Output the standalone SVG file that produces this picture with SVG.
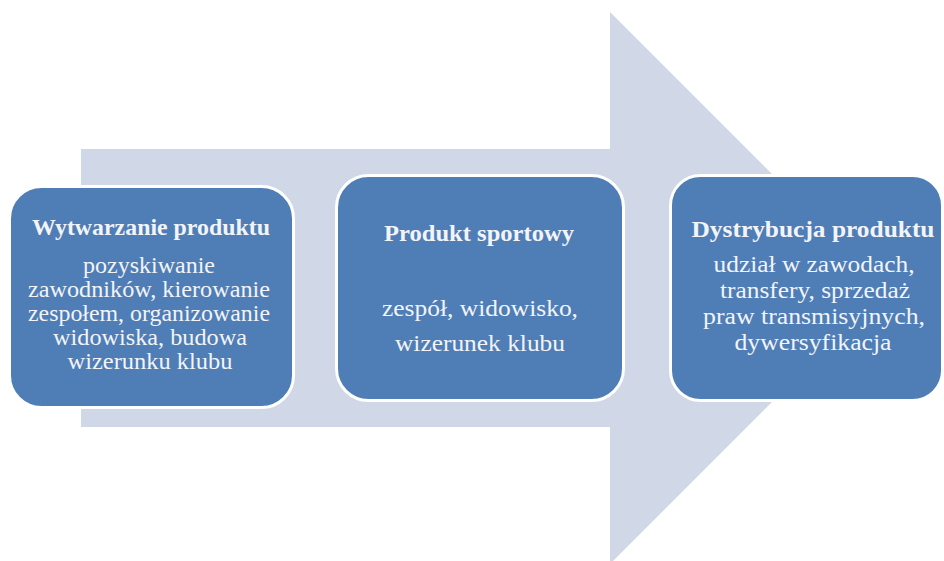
<svg xmlns="http://www.w3.org/2000/svg" width="944" height="561" viewBox="0 0 944 561">
<style>
.box{fill:#4f7db5;stroke:#ffffff;stroke-width:3}
.t{font-family:"Liberation Serif","Times New Roman",serif;font-size:23px;fill:#f2f4f8;text-anchor:middle}
.b{font-weight:bold}
</style>
<rect width="944" height="561" fill="#ffffff"/>
<g id="connectors">
<polygon points="81,149 610,149 610,12 886,288 610,564 610,427 81,427" fill="#d0d7e6"/>
</g>
<g id="node1">
<rect class="box" x="9.5" y="186.5" width="284" height="221" rx="32"/>
<text class="t b" x="151" y="235" textLength="238" lengthAdjust="spacingAndGlyphs">Wytwarzanie produktu</text>
<text class="t" x="149" y="273" textLength="132" lengthAdjust="spacingAndGlyphs">pozyskiwanie</text>
<text class="t" x="149" y="297" textLength="242" lengthAdjust="spacingAndGlyphs">zawodników, kierowanie</text>
<text class="t" x="149" y="321" textLength="242" lengthAdjust="spacingAndGlyphs">zespołem, organizowanie</text>
<text class="t" x="150" y="345" textLength="194" lengthAdjust="spacingAndGlyphs">widowiska, budowa</text>
<text class="t" x="150" y="369" textLength="165" lengthAdjust="spacingAndGlyphs">wizerunku klubu</text>
</g>
<g id="node2">
<rect class="box" x="336.5" y="175.5" width="287" height="225" rx="32"/>
<text class="t b" x="479" y="241" textLength="190" lengthAdjust="spacingAndGlyphs">Produkt sportowy</text>
<text class="t" x="480" y="316" textLength="196" lengthAdjust="spacingAndGlyphs">zespół, widowisko,</text>
<text class="t" x="480" y="351" textLength="170" lengthAdjust="spacingAndGlyphs">wizerunek klubu</text>
</g>
<g id="node3">
<rect class="box" x="670.5" y="175.5" width="272" height="225" rx="30"/>
<text class="t b" x="813" y="237" textLength="243" lengthAdjust="spacingAndGlyphs">Dystrybucja produktu</text>
<text class="t" x="814" y="272" textLength="201" lengthAdjust="spacingAndGlyphs">udział w zawodach,</text>
<text class="t" x="815" y="298" textLength="190" lengthAdjust="spacingAndGlyphs">transfery, sprzedaż</text>
<text class="t" x="814" y="324" textLength="222" lengthAdjust="spacingAndGlyphs">praw transmisyjnych,</text>
<text class="t" x="813" y="350" textLength="157" lengthAdjust="spacingAndGlyphs">dywersyfikacja</text>
</g>
</svg>
